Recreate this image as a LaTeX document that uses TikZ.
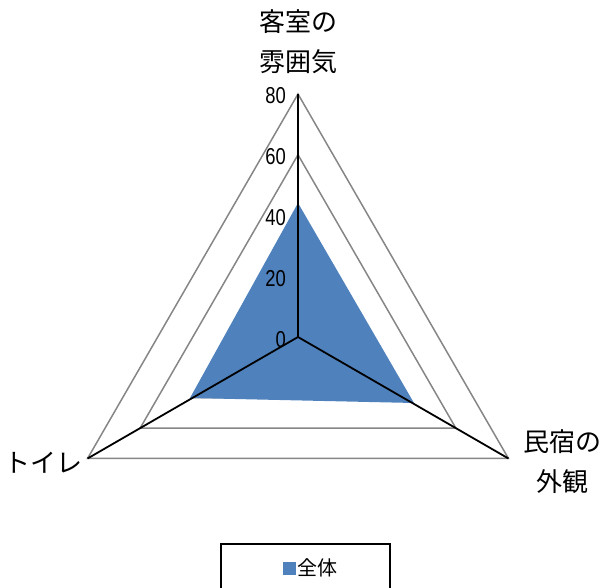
\documentclass[tikz,border=0pt]{standalone}
\usepackage{fontspec}
\usetikzlibrary{calc}
\setmainfont{Noto Sans CJK JP}
\newfontfamily\numfont[FakeStretch=0.8]{Liberation Sans}
\definecolor{serblue}{HTML}{4F81BD}
\definecolor{ringgray}{HTML}{868686}
\tikzset{
  ringline/.style={draw=ringgray, line width=1.5pt},
  axisline/.style={draw=black, line width=1.8pt},
  catlabel/.style={font=\fontsize{26}{40}\selectfont, align=center, inner sep=0pt},
  ticklabel/.style={font=\numfont\fontsize{23}{23}\selectfont, anchor=east, inner sep=0pt},
  legendtext/.style={font=\fontsize{20}{20}\selectfont, anchor=west, inner sep=0pt}
}
\begin{document}
\begin{tikzpicture}[x=1pt,y=-1pt]
\useasboundingbox (0,0) rectangle (606,588);
\clip (0,0) rectangle (606,588);
\coordinate (c) at (298,337);
% grid rings
\foreach \r in {60.75,121.5,182.25,243}{
  \draw[ringline] ($(c)+(-90:\r)$) -- ($(c)+(30:\r)$) -- ($(c)+(150:\r)$) -- cycle;
}
% data
\coordinate (dt) at (298,203);
\coordinate (dr) at (414,403);
\coordinate (dl) at (190,398);
\fill[serblue] (dt) -- (dr) -- (dl) -- cycle;
% axes
\coordinate (vt) at ($(c)+(-90:243)$);
\coordinate (vr) at ($(c)+(30:243)$);
\coordinate (vl) at ($(c)+(150:243)$);
\draw[axisline] (c) -- (vt);
\draw[axisline] (c) -- (vr);
\draw[axisline] (c) -- (vl);
% tick labels
\node[ticklabel] (t80) at (286,96) {80};
\node[ticklabel] (t60) at (286,157) {60};
\node[ticklabel] (t40) at (286,218) {40};
\node[ticklabel] (t20) at (286,279) {20};
\node[ticklabel] (t0) at (286,340) {0};
% category labels
\node[catlabel] (ltop) at (298,42) {客室の\\雰囲気};
\node[catlabel] (lleft) at (44,463) {トイレ};
\node[catlabel] (lright) at (562,462) {民宿の\\外観};
% legend
\draw[black, line width=1.5pt] (221,544) rectangle (390,600);
\fill[serblue] (283,562) rectangle (296,575);
\node[legendtext] (leg) at (297,568) {全体};
\end{tikzpicture}
\end{document}
